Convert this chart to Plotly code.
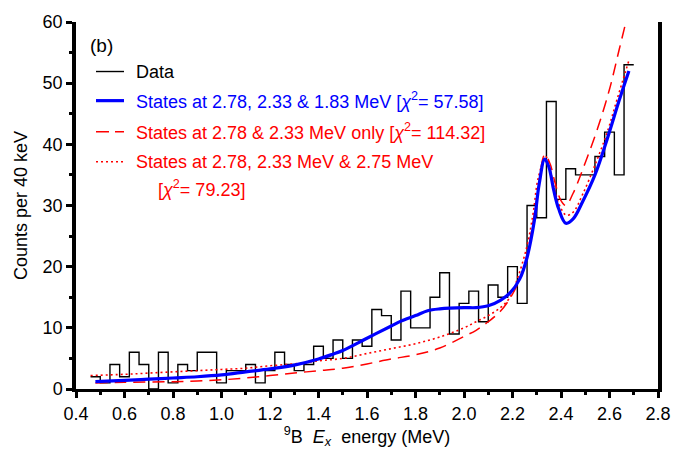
import plotly.graph_objects as go

# Measured spectrum: counts per 40 keV bin, first bin starting at 0.46 MeV
bin_start = 0.46
bin_width = 0.04
counts = [2, 1, 4, 2, 6, 4, 0, 6, 1, 4, 3, 6, 6, 1, 3, 3, 4, 1, 3, 6,
          4, 3, 4, 7, 5, 8, 5, 8, 7, 13, 12, 8, 16, 10, 10, 15, 19, 9, 14, 16,
          11, 17, 15, 20, 14, 30, 28, 47, 31, 36, 35, 35, 38, 42, 35, 53]

# Fit: states at 2.78, 2.33 & 1.83 MeV
fit3_e = [0.48, 0.60, 0.70, 0.80, 0.90, 1.00, 1.10, 1.20, 1.30, 1.40, 1.46, 1.50,
          1.60, 1.70, 1.74, 1.80, 1.85, 1.90, 2.00, 2.05, 2.10, 2.15, 2.19, 2.23,
          2.26, 2.29, 2.31, 2.333, 2.35, 2.37, 2.39, 2.42, 2.45, 2.49, 2.54, 2.59,
          2.64, 2.68]
fit3_c = [1.2, 1.4, 1.6, 1.8, 2.0, 2.3, 2.8, 3.3, 3.9, 4.9, 5.7, 6.3,
          8.3, 10.3, 11.1, 12.0, 12.8, 13.1, 13.3, 13.3, 13.6, 14.5, 15.7, 18.0,
          21.5, 27.5, 33.5, 37.6, 36.3, 32.5, 29.5, 27.1, 27.8, 30.7, 35.0, 40.8,
          47.2, 52.0]

# Fit: states at 2.78 & 2.33 MeV only
fit2_e = [0.48, 0.60, 0.80, 0.90, 1.00, 1.10, 1.20, 1.30, 1.40, 1.50, 1.60, 1.70,
          1.80, 1.90, 2.00, 2.05, 2.10, 2.15, 2.20, 2.24, 2.27, 2.30, 2.333, 2.355,
          2.375, 2.40, 2.42, 2.45, 2.50, 2.55, 2.60, 2.64, 2.68]
fit2_c = [1.0, 1.1, 1.2, 1.3, 1.5, 1.8, 2.2, 2.6, 3.0, 3.4, 4.1, 4.9,
          5.6, 6.7, 8.6, 9.6, 11.0, 12.7, 15.5, 19.0, 24.0, 31.0, 38.3, 36.8,
          33.8, 30.8, 30.0, 32.0, 37.0, 42.5, 49.0, 55.5, 62.0]

# Fit: states at 2.78, 2.33 MeV & 2.75 MeV
fitb_e = [0.46, 0.60, 0.70, 0.80, 0.90, 1.00, 1.10, 1.20, 1.30, 1.40, 1.50, 1.60,
          1.70, 1.80, 1.90, 2.00, 2.05, 2.10, 2.15, 2.19, 2.22, 2.26, 2.285, 2.306,
          2.337, 2.355, 2.375, 2.40, 2.423, 2.45, 2.49, 2.54, 2.59, 2.63, 2.68]
fitb_c = [2.2, 2.4, 2.6, 2.8, 3.0, 3.2, 3.4, 3.8, 4.1, 4.6, 5.0, 5.8,
          6.6, 7.4, 8.5, 10.0, 11.0, 12.0, 13.3, 15.0, 18.0, 23.4, 28.7, 34.5,
          38.0, 35.8, 32.4, 29.5, 28.4, 28.9, 31.9, 36.6, 41.9, 47.2, 53.7]

x_ticks = [0.4, 0.6, 0.8, 1.0, 1.2, 1.4, 1.6, 1.8, 2.0, 2.2, 2.4, 2.6, 2.8]
y_ticks = [0, 10, 20, 30, 40, 50, 60]

legend_labels = [
    "Data",
    "States at 2.78, 2.33 & 1.83 MeV [<i>χ</i><sup>2</sup>= 57.58]",
    "States at 2.78 & 2.33 MeV only [<i>χ</i><sup>2</sup>= 114.32]",
    "States at 2.78, 2.33 MeV & 2.75 MeV",
]
legend_extra = "[<i>χ</i><sup>2</sup>= 79.23]"

BLUE = "#0000ff"
RED = "#ff0000"
FONT = "Liberation Sans, Arial, Helvetica, sans-serif"

# step outline: one point per left edge plus the closing right edge
edges = [bin_start + i * bin_width for i in range(len(counts) + 1)]
step_y = counts + [counts[-1]]

fig = go.Figure()
fig.add_trace(go.Scatter(x=edges, y=step_y, mode="lines", line_shape="hv",
                         line=dict(color="black", width=1.4)))
fig.add_trace(go.Scatter(x=fit2_e, y=fit2_c, mode="lines", line_shape="spline",
                         line=dict(color=RED, width=1.5, dash="12px,7px")))
fig.add_trace(go.Scatter(x=fitb_e, y=fitb_c, mode="lines", line_shape="spline",
                         line=dict(color=RED, width=1.6, dash="2px,3px")))
fig.add_trace(go.Scatter(x=fit3_e, y=fit3_c, mode="lines", line_shape="spline",
                         line=dict(color=BLUE, width=3.2)))

axis_common = dict(showgrid=False, zeroline=False, linecolor="black",
                   tickcolor="black", ticks="outside", ticklen=6, tickwidth=2.5,
                   tickfont=dict(family=FONT, size=18, color="black"))

fig.update_layout(
    width=695, height=456,
    margin=dict(l=76, r=37, t=16, b=62),
    plot_bgcolor="white", paper_bgcolor="white",
    showlegend=False,
    font=dict(family=FONT, color="black"),
    xaxis=dict(range=[0.4, 2.8], tickvals=x_ticks,
               ticktext=[f"{v:.1f}" for v in x_ticks],
               showline=True, linewidth=3, mirror=False,
               minor=dict(dtick=0.1, tick0=0.4, ticks="outside", ticklen=3,
                          tickwidth=2.5, tickcolor="black"),
               title=dict(text="<sup>9</sup>B&nbsp;&nbsp;<i>E</i><sub><i>x</i></sub>&nbsp;&nbsp;energy (MeV)",
                          font=dict(family=FONT, size=18), standoff=8),
               **axis_common),
    yaxis=dict(range=[0, 60], tickvals=y_ticks, showline=True, linewidth=3.5,
               mirror=True,
               minor=dict(dtick=5, tick0=0, ticks="outside", ticklen=3,
                          tickwidth=2.5, tickcolor="black"),
               title=dict(text="Counts per 40 keV",
                          font=dict(family=FONT, size=18), standoff=11),
               **axis_common),
    # overlaid copies carry the inward half of each tick mark
    xaxis2=dict(range=[0.4, 2.8], overlaying="x", anchor="y", side="bottom",
                tickvals=x_ticks, showticklabels=False, showgrid=False,
                zeroline=False, showline=False, ticks="inside", ticklen=6,
                tickwidth=2.5, tickcolor="black",
                minor=dict(dtick=0.1, tick0=0.4, ticks="inside", ticklen=3,
                           tickwidth=2.5, tickcolor="black")),
    yaxis2=dict(range=[0, 60], overlaying="y", anchor="x", side="left",
                tickvals=y_ticks, showticklabels=False, showgrid=False,
                zeroline=False, showline=False, ticks="inside", ticklen=6,
                tickwidth=2.5, tickcolor="black",
                minor=dict(dtick=5, tick0=0, ticks="inside", ticklen=3,
                           tickwidth=2.5, tickcolor="black")),
)

# hand-placed key inside the upper-left of the frame (positions in pixels)
PL, PR, PT, PB = 76, 658, 16, 394


def px(x):
    return (x - PL) / (PR - PL)


def py(y):
    return (PB - y) / (PB - PT)


key_rows = [67, 97, 129, 160]
key_styles = [dict(color="black", width=1.4),
              dict(color=BLUE, width=3.2),
              dict(color=RED, width=1.5, dash="13px,6px"),
              dict(color=RED, width=1.6, dash="2px,3px")]
key_colors = ["black", BLUE, RED, RED]

for row, style, label, col in zip(key_rows, key_styles, legend_labels, key_colors):
    fig.add_shape(type="line", xref="paper", yref="paper",
                  x0=px(96), x1=px(124), y0=py(row), y1=py(row), line=style)
    fig.add_annotation(xref="paper", yref="paper", x=px(134), y=py(row),
                       text=label, showarrow=False, xanchor="left",
                       yanchor="middle", font=dict(family=FONT, size=18, color=col))

fig.add_annotation(xref="paper", yref="paper", x=px(156), y=py(187),
                   text=legend_extra, showarrow=False, xanchor="left",
                   yanchor="middle", font=dict(family=FONT, size=18, color=RED))
fig.add_annotation(xref="paper", yref="paper", x=px(88), y=py(40),
                   text="(b)", showarrow=False, xanchor="left",
                   yanchor="middle", font=dict(family=FONT, size=19, color="black"))

fig.write_html("out.html")
